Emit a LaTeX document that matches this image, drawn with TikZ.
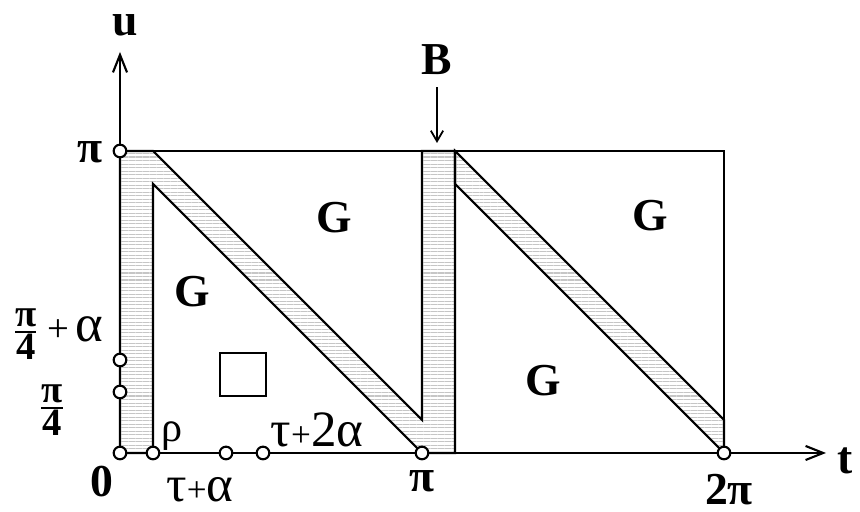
\documentclass[tikz,border=0pt]{standalone}
\usepackage{fontspec}
\setmainfont{Liberation Serif}
\usepackage{tikz}
\usetikzlibrary{arrows.meta, positioning, patterns.meta}

\begin{document}
\begin{tikzpicture}[
    pt/.style={circle, draw, fill=white, line width=0.6pt, inner sep=0pt, minimum size=3.6pt},
    big/.style={font=\bfseries\fontsize{13}{15}\selectfont},
    mid/.style={font=\fontsize{14.5}{16}\selectfont},
    frc/.style={font=\bfseries\fontsize{11}{13}\selectfont, inner sep=0.5pt},
    hatch/.style={pattern={Lines[angle=0, distance=1pt, line width=0.3pt]}, pattern color=gray!45},
    axis/.style={line width=0.6pt, -{Straight Barb[length=5pt, width=4pt]}}
]
    \useasboundingbox (-1.2,-0.59) rectangle (7.4,4.53);

    % 阴影带
    \draw[hatch, line width=0.6pt] (0,0) -- (0,3.02) -- (0.33,3.02) -- (3.02,0.33) -- (3.02,3.02) -- (3.35,3.02) -- (3.35,0) -- (3.02,0) -- (0.33,2.69) -- (0.33,0) -- cycle;
    \draw[hatch, line width=0.6pt] (3.35,3.02) -- (6.04,0.33) -- (6.04,0) -- (3.35,2.69) -- cycle;

    % 矩形边
    \draw[line width=0.6pt] (0,3.02) -- (6.04,3.02) -- (6.04,0);
    \draw[line width=0.6pt] (1.0,0.57) rectangle (1.46,1.0);

    % 坐标轴
    \coordinate (O) at (0,0);
    \coordinate (tend) at (7.06,0);
    \coordinate (uend) at (0,4.01);
    \draw[axis] (O) -- (tend);
    \draw[axis] (O) -- (uend);
    \node[big] (tlab) at (7.25,-0.08) {t};
    \node[big] (ulab) at (0.05,4.28) {u};

    % 点
    \node[pt] (p0) at (0,0) {};
    \node[pt] (prho) at (0.33,0) {};
    \node[pt] (pta) at (1.06,0) {};
    \node[pt] (pt2a) at (1.43,0) {};
    \node[pt] (ppi) at (3.02,0) {};
    \node[pt] (p2pi) at (6.04,0) {};
    \node[pt] (uq) at (0,0.61) {};
    \node[pt] (uqa) at (0,0.93) {};
    \node[pt] (upi) at (0,3.02) {};

    % 刻度
    \node[big] (l0) at (-0.18,-0.29) {0};
    \node[big] (lpi) at (3.02,-0.28) {π};
    \node[big] (l2pi) at (6.09,-0.37) {2π};
    \node[big] (lupi) at (-0.30,3.01) {π};
    \node[font=\fontsize{12}{13}\selectfont] (lrho) at (0.52,0.17) {ρ};
    \node[mid] (lta) at (0.80,-0.37) {τ{\fontsize{10}{10}\selectfont+}α};
    \node[mid] (lt2a) at (1.97,0.23) {τ{\fontsize{10}{10}\selectfont+}2α};
    \node[frc] (lq) at (-0.68,0.43) {$\frac{\mbox{π}}{\mbox{4}}$};
    \node[frc] (lqa) at (-0.63,1.19) {$\frac{\mbox{π}}{\mbox{4}}$\,{\mdseries\fontsize{11}{11}\selectfont+}\,{\mdseries\fontsize{15}{15}\selectfont α}};

    % 区域 G
    \node[big] (g1) at (2.14,2.35) {G};
    \node[big] (g2) at (0.72,1.61) {G};
    \node[big] (g3) at (5.30,2.37) {G};
    \node[big] (g4) at (4.23,0.72) {G};

    % B
    \node[big] (B) at (3.17,3.93) {B};
    \coordinate (btip) at (3.17,3.10);
    \draw[line width=0.5pt, -{Straight Barb[length=3pt, width=3.5pt]}] (B) -- (btip);
\end{tikzpicture}
\end{document}
